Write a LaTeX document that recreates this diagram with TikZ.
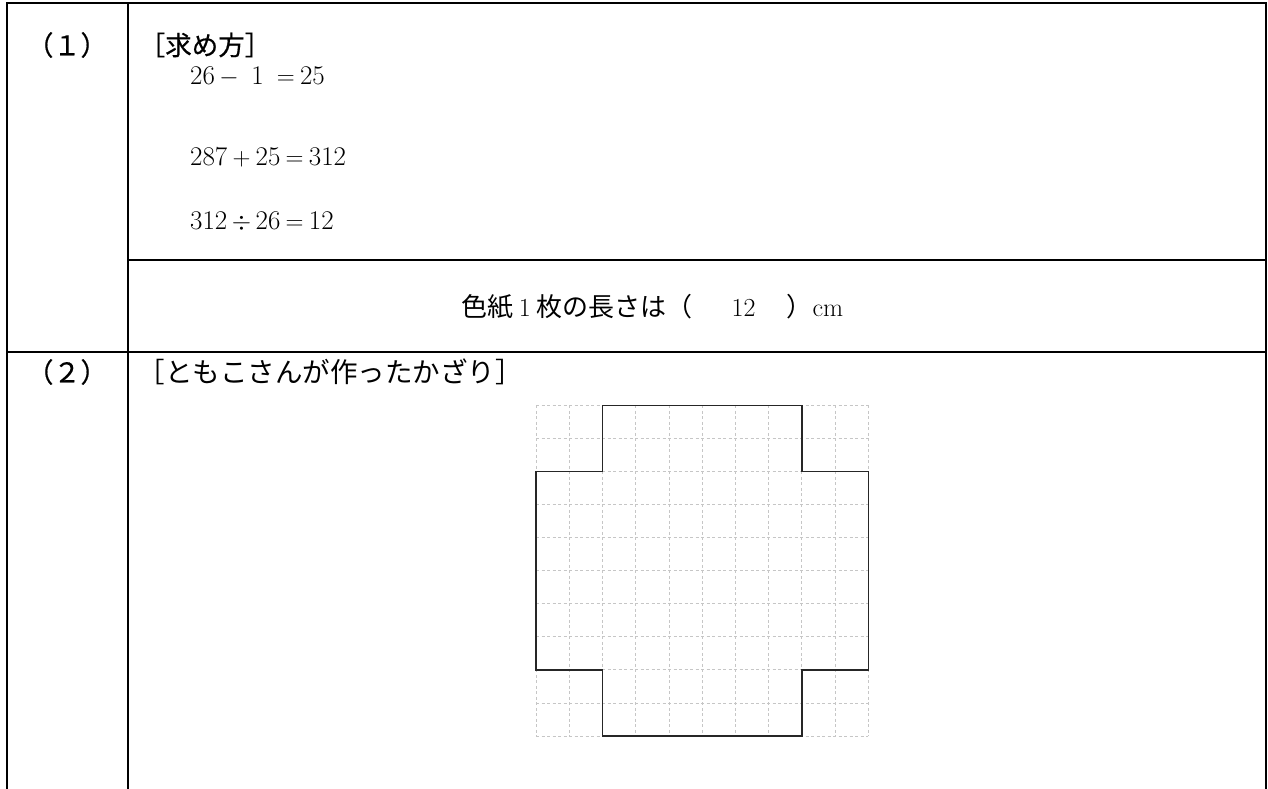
\documentclass[tikz,border=0pt]{standalone}
\usepackage{fontspec}
\newfontfamily\cjk{Noto Sans CJK JP}
\newfontfamily\cjkb{Noto Sans CJK JP}[FakeBold=0.5]
\newcommand{\fwsym}[1]{\makebox[1.05em]{#1}}
\begin{document}
\begin{tikzpicture}[x=1pt,y=-1pt,
  frame/.style={line width=2.6pt},
  gridline/.style={gray!45,line width=0.8pt,dash pattern=on 3pt off 2.5pt},
  shapeline/.style={line width=1.5pt,black!85},
  lbl/.style={inner sep=0pt,anchor=west},
  num/.style={inner sep=0pt,anchor=center}]
\useasboundingbox (0,0) rectangle (1268,789);
\fill[white] (0,0) rectangle (1268,789);
% table frame
\draw[frame] (7,789) -- (7,3) -- (1266,3) -- (1266,789);
\draw[frame] (128,3) -- (128,789);
\draw[frame] (128,260) -- (1266,260);
\draw[frame] (7,352) -- (1266,352);
% row labels
\node[num,font=\fontsize{27pt}{30pt}\selectfont\cjkb] (q1) at (67,45) {（１）};
\node[num,font=\fontsize{27pt}{30pt}\selectfont\cjkb] (q2) at (67,372) {（２）};
% part (1)
\node[num,font=\fontsize{26.5pt}{30pt}\selectfont\cjkb] (h1) at (205,45) {［求め方］};
\node[lbl,font=\fontsize{27pt}{30pt}\selectfont] (e1) at (190,77) {26\fwsym{$-$}\fwsym{1}\fwsym{$=$}25};
\node[lbl,font=\fontsize{27pt}{30pt}\selectfont] (e2) at (190,157) {287\fwsym{$+$}25\fwsym{$=$}312};
\node[lbl,font=\fontsize{27pt}{30pt}\selectfont] (e3) at (190,222) {312\fwsym{$\div$}26\fwsym{$=$}12};
\node[lbl,font=\fontsize{26pt}{30pt}\selectfont] (ans) at (461,307) {{\cjk 色紙}\makebox[0.9em]{1}{\cjk 枚の長さは（}\hspace{1.5em}12\hspace{1.2em}{\cjk ）}cm};
% part (2)
\node[num,font=\fontsize{27.5pt}{30pt}\selectfont\cjk] (h2) at (330,372) {［ともこさんが作ったかざり］};
% grid
\foreach \i in {0,...,10}
  \draw[gridline] ({536+33.23*\i},405.3) -- ({536+33.23*\i},736);
\foreach \j in {0,...,10}
  \draw[gridline] (536,{405.3+33.07*\j}) -- (868.3,{405.3+33.07*\j});
% decoration outline
\draw[shapeline] (602.5,405.3) -- (801.8,405.3) -- (801.8,471.4) -- (868.3,471.4)
  -- (868.3,670) -- (801.8,670) -- (801.8,736) -- (602.5,736) -- (602.5,670)
  -- (536,670) -- (536,471.4) -- (602.5,471.4) -- cycle;
\end{tikzpicture}
\end{document}
